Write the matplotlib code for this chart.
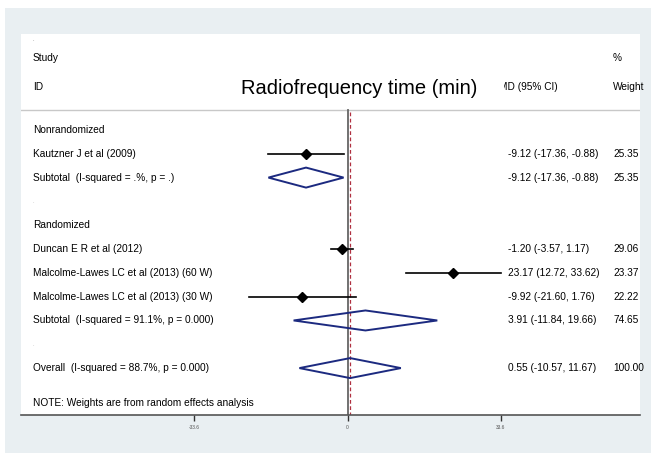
import matplotlib
matplotlib.use('Agg')
import matplotlib.pyplot as plt
from matplotlib.patches import Rectangle, Polygon

plt.rcParams['font.family'] = ['Liberation Sans', 'DejaVu Sans']

# vrstice v grafu (od zgoraj navzdol)
labels = ["Nonrandomized",
          "Kautzner J et al (2009)",
          "Subtotal  (I-squared = .%, p = .)",
          ".",
          "Randomized",
          "Duncan E R et al (2012)",
          "Malcolme-Lawes LC et al (2013) (60 W)",
          "Malcolme-Lawes LC et al (2013) (30 W)",
          "Subtotal  (I-squared = 91.1%, p = 0.000)",
          ".",
          "Overall  (I-squared = 88.7%, p = 0.000)"]

# posamezne studije
study_rows = [1, 5, 6, 7]
study_md = [-9.12, -1.20, 23.17, -9.92]
study_lo = [-17.36, -3.57, 12.72, -21.60]
study_hi = [-0.88, 1.17, 33.62, 1.76]
study_w = [25.35, 29.06, 23.37, 22.22]

# zdruzeni rezultati (diamanti)
pool_rows = [2, 8, 10]
pool_md = [-9.12, 3.91, 0.55]
pool_lo = [-17.36, -11.84, -10.57]
pool_hi = [-0.88, 19.66, 11.67]
pool_w = [25.35, 74.65, 100.00]

xticks = [-33.6, 0, 33.6]
title = "Radiofrequency time (min)"
note = "NOTE: Weights are from random effects analysis"

W, H = 651, 453
fig = plt.figure(figsize=(W / 100, H / 100), dpi=100)
fig.patch.set_facecolor('white')
fig.patches.append(Rectangle((5 / W, 0), 1, (H - 8) / H, transform=fig.transFigure,
                             facecolor='#e9eff2', edgecolor='none', zorder=-10))

ax = fig.add_axes([21 / W, (H - 415) / H, (640 - 21) / W, (415 - 34) / H])
ax.set_zorder(5)
ax.set_facecolor('white')
ax.set_xlim(-71.6, 64.1)
ax.set_ylim(11.97, -4.03)

x_lab = -69.0
x_es = 35.2
x_w = 58.2
fs = 7.3

# glava
ax.text(x_lab, -3.78, ".", fontsize=4, color='#666666', va='center')
ax.text(x_lab, -3.03, "Study", fontsize=fs, va='center')
ax.text(x_lab, -1.8, "ID", fontsize=fs, va='center')
ax.text(x_w, -3.03, "%", fontsize=fs, va='center')
ax.text(x_w, -1.8, "Weight", fontsize=fs, va='center')
ax.text(33.2, -1.8, "MD (95% CI)", fontsize=fs, va='center', zorder=3)
# naslov prekrije del glave stolpca (kot v Stati)
ax.add_patch(Rectangle((29.0, -2.4), 5.2, 1.2, facecolor='white', edgecolor='none', zorder=4))
ax.text(2.5, -1.75, title, fontsize=14.5, ha='center', va='center', zorder=5,
        bbox=dict(facecolor='white', edgecolor='none', pad=3))
ax.axhline(-0.84, color='#c8c8c8', lw=1)

for i, lab in enumerate(labels):
    if lab == ".":
        ax.text(x_lab, i, lab, fontsize=4, color='#aaaaaa', va='center')
    else:
        ax.text(x_lab, i, lab, fontsize=fs, va='center')
ax.text(x_lab, 11.47, note, fontsize=fs, va='center')

# crte nicle in skupnega ucinka
ax.plot([0, 0], [-0.84, 11.97], color='#666666', lw=1.3, zorder=2)
ax.plot([pool_md[-1], pool_md[-1]], [-0.75, 11.97], color='#b03040', lw=0.9,
        ls=(0, (3, 2)), zorder=2)

for r, m, lo, hi, w in zip(study_rows, study_md, study_lo, study_hi, study_w):
    ax.plot([lo, hi], [r, r], color='black', lw=1.2, zorder=3)
    ax.plot(m, r, marker='D', color='black', markersize=5.5, zorder=4)
    ax.text(x_es, r, f"{m:.2f} ({lo:.2f}, {hi:.2f})", fontsize=fs, va='center')
    ax.text(x_w, r, f"{w:.2f}", fontsize=fs, va='center')

for r, m, lo, hi, w in zip(pool_rows, pool_md, pool_lo, pool_hi, pool_w):
    ax.add_patch(Polygon([(lo, r), (m, r - 0.42), (hi, r), (m, r + 0.42)], closed=True,
                         facecolor='none', edgecolor='#1c2a80', lw=1.4, zorder=3))
    ax.text(x_es, r, f"{m:.2f} ({lo:.2f}, {hi:.2f})", fontsize=fs, va='center')
    ax.text(x_w, r, f"{w:.2f}", fontsize=fs, va='center')

for s in ['top', 'left', 'right']:
    ax.spines[s].set_visible(False)
ax.spines['bottom'].set_color('#555555')
ax.spines['bottom'].set_linewidth(1.2)
ax.set_yticks([])
ax.set_xticks(xticks)
ax.set_xticklabels([f"{t:g}" for t in xticks])
ax.tick_params(axis='x', length=4, width=1, color='#333333', labelsize=3.5,
               labelcolor='#555555', pad=3)

fig.savefig('out.png', dpi=100)
